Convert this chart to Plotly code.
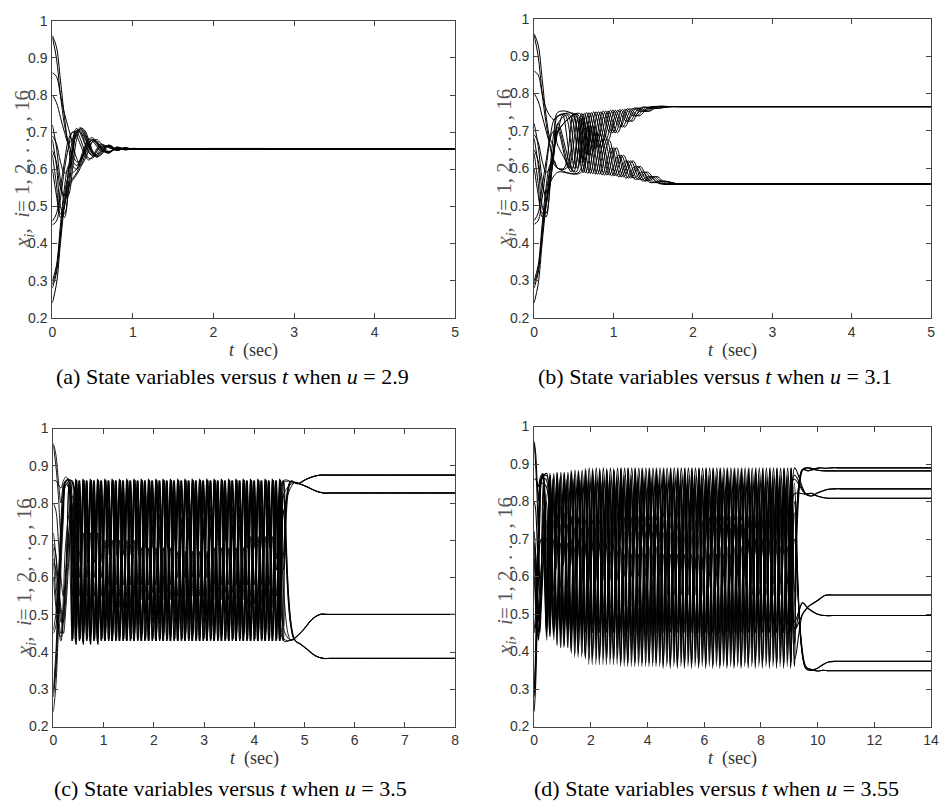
import plotly.graph_objects as go

# ---------------- shared initial conditions ----------------
INIT = [0.96, 0.955, 0.86, 0.80, 0.72, 0.69, 0.68, 0.65, 0.64, 0.60, 0.46, 0.45, 0.30, 0.29, 0.28, 0.24]

# ---------------- panel (a): u = 2.9 ----------------
TA = [0, 0.05, 0.1, 0.15, 0.2, 0.25, 0.3, 0.35, 0.4, 0.45, 0.5, 0.55, 0.6, 0.7, 0.8, 0.9, 1.0, 1.1, 5.0]
A_SERIES = [
    [0.96, 0.93, 0.84, 0.74, 0.66, 0.61, 0.60, 0.62, 0.655, 0.68, 0.685, 0.672, 0.655, 0.643, 0.66, 0.652, 0.656, 0.655, 0.655],
    [0.955, 0.90, 0.80, 0.72, 0.67, 0.64, 0.62, 0.625, 0.645, 0.67, 0.68, 0.675, 0.66, 0.645, 0.658, 0.653, 0.656, 0.655, 0.655],
    [0.86, 0.85, 0.80, 0.75, 0.71, 0.67, 0.63, 0.61, 0.625, 0.65, 0.675, 0.68, 0.67, 0.648, 0.655, 0.658, 0.654, 0.655, 0.655],
    [0.80, 0.78, 0.74, 0.70, 0.67, 0.68, 0.70, 0.70, 0.685, 0.66, 0.64, 0.635, 0.645, 0.665, 0.652, 0.656, 0.655, 0.655, 0.655],
    [0.72, 0.66, 0.57, 0.52, 0.53, 0.60, 0.68, 0.71, 0.705, 0.68, 0.65, 0.635, 0.638, 0.662, 0.654, 0.655, 0.655, 0.655, 0.655],
    [0.69, 0.67, 0.62, 0.59, 0.60, 0.65, 0.695, 0.705, 0.69, 0.665, 0.645, 0.64, 0.648, 0.664, 0.652, 0.657, 0.655, 0.655, 0.655],
    [0.68, 0.61, 0.50, 0.47, 0.54, 0.63, 0.70, 0.712, 0.70, 0.672, 0.645, 0.632, 0.64, 0.665, 0.653, 0.656, 0.655, 0.655, 0.655],
    [0.65, 0.62, 0.55, 0.53, 0.59, 0.66, 0.705, 0.70, 0.675, 0.65, 0.635, 0.64, 0.655, 0.663, 0.651, 0.657, 0.654, 0.655, 0.655],
    [0.64, 0.56, 0.48, 0.48, 0.56, 0.65, 0.70, 0.708, 0.695, 0.668, 0.642, 0.636, 0.645, 0.664, 0.653, 0.656, 0.655, 0.655, 0.655],
    [0.60, 0.53, 0.47, 0.50, 0.60, 0.68, 0.71, 0.695, 0.67, 0.645, 0.638, 0.648, 0.66, 0.66, 0.652, 0.657, 0.654, 0.655, 0.655],
    [0.46, 0.48, 0.55, 0.62, 0.68, 0.70, 0.69, 0.665, 0.64, 0.625, 0.635, 0.655, 0.668, 0.658, 0.652, 0.657, 0.654, 0.655, 0.655],
    [0.45, 0.46, 0.52, 0.60, 0.66, 0.70, 0.70, 0.68, 0.65, 0.63, 0.63, 0.648, 0.665, 0.66, 0.651, 0.657, 0.654, 0.655, 0.655],
    [0.30, 0.34, 0.45, 0.55, 0.61, 0.62, 0.61, 0.625, 0.65, 0.672, 0.678, 0.668, 0.655, 0.645, 0.659, 0.653, 0.656, 0.655, 0.655],
    [0.29, 0.33, 0.43, 0.53, 0.58, 0.59, 0.60, 0.63, 0.66, 0.68, 0.676, 0.662, 0.65, 0.647, 0.659, 0.653, 0.656, 0.655, 0.655],
    [0.28, 0.32, 0.42, 0.51, 0.56, 0.575, 0.59, 0.615, 0.645, 0.668, 0.68, 0.672, 0.658, 0.645, 0.658, 0.653, 0.656, 0.655, 0.655],
    [0.24, 0.29, 0.40, 0.50, 0.55, 0.57, 0.585, 0.605, 0.635, 0.66, 0.675, 0.675, 0.662, 0.646, 0.657, 0.654, 0.655, 0.655, 0.655],
]

# ---------------- panel (b): u = 3.1 ----------------
TB_EARLY = [0, 0.05, 0.1, 0.15, 0.2, 0.25, 0.3]
B_EARLY = [
    [0.96, 0.93, 0.84, 0.74, 0.68, 0.66, 0.70],
    [0.955, 0.90, 0.80, 0.72, 0.66, 0.61, 0.60],
    [0.86, 0.85, 0.80, 0.76, 0.74, 0.73, 0.74],
    [0.80, 0.78, 0.74, 0.70, 0.66, 0.62, 0.60],
    [0.72, 0.66, 0.57, 0.52, 0.56, 0.64, 0.72],
    [0.69, 0.67, 0.62, 0.59, 0.60, 0.65, 0.70],
    [0.68, 0.61, 0.50, 0.47, 0.55, 0.66, 0.74],
    [0.65, 0.62, 0.55, 0.53, 0.59, 0.66, 0.71],
    [0.64, 0.56, 0.48, 0.48, 0.56, 0.65, 0.72],
    [0.60, 0.53, 0.47, 0.50, 0.60, 0.70, 0.75],
    [0.46, 0.48, 0.55, 0.62, 0.68, 0.70, 0.66],
    [0.45, 0.46, 0.52, 0.60, 0.68, 0.73, 0.74],
    [0.30, 0.34, 0.45, 0.55, 0.61, 0.62, 0.60],
    [0.29, 0.33, 0.43, 0.53, 0.60, 0.65, 0.70],
    [0.28, 0.32, 0.42, 0.51, 0.56, 0.58, 0.59],
    [0.24, 0.29, 0.40, 0.50, 0.57, 0.64, 0.70],
]
B_GROUP = [0, 1, 0, 1, 0, 1, 0, 1, 1, 0, 1, 0, 1, 0, 1, 0]
B_PHASE = [0.0, 0.015, 0.03, 0.045, 0.06, 0.075, 0.09, 0.105, 0.135, 0.12, 0.165, 0.15, 0.195, 0.18, 0.225, 0.21]
B_START = 0.36
B_HALF = 0.12
B_ENV_T = [0.35, 0.45, 0.55, 0.65, 0.75, 0.85, 0.95, 1.05, 1.15, 1.25, 1.35, 1.45, 1.55, 1.65]
B_OUTER = [
    [0.742, 0.745, 0.747, 0.749, 0.751, 0.753, 0.755, 0.757, 0.759, 0.761, 0.763, 0.764, 0.765, 0.765],
    [0.60, 0.59, 0.588, 0.586, 0.584, 0.582, 0.58, 0.577, 0.574, 0.57, 0.566, 0.562, 0.559, 0.558],
]
B_INNER = [
    [0.62, 0.60, 0.615, 0.635, 0.655, 0.675, 0.695, 0.71, 0.725, 0.74, 0.752, 0.76, 0.765, 0.765],
    [0.75, 0.748, 0.735, 0.715, 0.695, 0.675, 0.655, 0.635, 0.62, 0.605, 0.59, 0.578, 0.566, 0.56],
]
B_STOP = [1.58, 1.68]
B_FINAL_T = [[1.72, 1.85, 5.0], [1.82, 1.95, 5.0]]
B_FINAL = [0.765, 0.558]

# ---------------- panels (c) and (d): shared start ----------------
TCD_EARLY = [0, 0.05, 0.1, 0.15, 0.2, 0.25]
CD_EARLY = [
    [0.96, 0.93, 0.86, 0.80, 0.85, 0.86],
    [0.955, 0.90, 0.82, 0.72, 0.78, 0.86],
    [0.86, 0.86, 0.85, 0.84, 0.86, 0.87],
    [0.80, 0.78, 0.70, 0.60, 0.55, 0.62],
    [0.72, 0.66, 0.56, 0.48, 0.52, 0.62],
    [0.69, 0.66, 0.58, 0.52, 0.48, 0.55],
    [0.68, 0.60, 0.50, 0.45, 0.50, 0.60],
    [0.65, 0.62, 0.58, 0.50, 0.45, 0.52],
    [0.64, 0.55, 0.47, 0.43, 0.48, 0.60],
    [0.60, 0.52, 0.46, 0.44, 0.55, 0.70],
    [0.46, 0.50, 0.60, 0.72, 0.82, 0.86],
    [0.45, 0.47, 0.56, 0.68, 0.80, 0.86],
    [0.30, 0.40, 0.58, 0.75, 0.84, 0.86],
    [0.29, 0.37, 0.55, 0.70, 0.82, 0.86],
    [0.28, 0.35, 0.50, 0.66, 0.80, 0.85],
    [0.24, 0.31, 0.46, 0.62, 0.76, 0.85],
]

# ---------------- panel (c): u = 3.5 ----------------
C_GROUP = [0, 1, 0, 1, 2, 3, 2, 3, 2, 3, 0, 1, 0, 1, 2, 3]
C_LVL_T = [0.3, 1.0, 1.7, 2.4, 3.1, 3.8, 4.4]
C_PEAK = [
    [0.865, 0.865, 0.865, 0.865, 0.865, 0.865, 0.865],
    [0.855, 0.855, 0.855, 0.855, 0.855, 0.855, 0.855],
    [0.86, 0.86, 0.86, 0.86, 0.86, 0.86, 0.86],
    [0.80, 0.79, 0.77, 0.76, 0.77, 0.79, 0.82],
    [0.86, 0.86, 0.86, 0.86, 0.86, 0.86, 0.86],
    [0.86, 0.86, 0.86, 0.86, 0.86, 0.86, 0.86],
    [0.72, 0.70, 0.68, 0.67, 0.68, 0.71, 0.74],
    [0.76, 0.78, 0.80, 0.80, 0.79, 0.78, 0.78],
    [0.85, 0.85, 0.85, 0.85, 0.85, 0.85, 0.85],
    [0.82, 0.83, 0.84, 0.84, 0.83, 0.82, 0.82],
    [0.86, 0.86, 0.86, 0.86, 0.86, 0.86, 0.86],
    [0.86, 0.86, 0.86, 0.86, 0.86, 0.86, 0.86],
    [0.862, 0.862, 0.862, 0.862, 0.862, 0.862, 0.862],
    [0.78, 0.76, 0.74, 0.73, 0.74, 0.76, 0.78],
    [0.84, 0.84, 0.84, 0.84, 0.84, 0.84, 0.84],
    [0.86, 0.86, 0.86, 0.86, 0.86, 0.86, 0.86],
]
C_TROUGH = [
    [0.43, 0.43, 0.43, 0.43, 0.43, 0.43, 0.43],
    [0.44, 0.45, 0.47, 0.49, 0.47, 0.45, 0.44],
    [0.60, 0.58, 0.56, 0.55, 0.56, 0.58, 0.62],
    [0.43, 0.43, 0.43, 0.43, 0.43, 0.43, 0.43],
    [0.435, 0.435, 0.435, 0.435, 0.435, 0.435, 0.435],
    [0.42, 0.43, 0.43, 0.43, 0.43, 0.43, 0.43],
    [0.43, 0.43, 0.43, 0.43, 0.43, 0.43, 0.43],
    [0.425, 0.43, 0.43, 0.43, 0.43, 0.43, 0.43],
    [0.55, 0.52, 0.50, 0.50, 0.51, 0.53, 0.55],
    [0.44, 0.44, 0.44, 0.44, 0.44, 0.44, 0.44],
    [0.47, 0.48, 0.50, 0.52, 0.50, 0.48, 0.47],
    [0.52, 0.55, 0.58, 0.60, 0.58, 0.55, 0.52],
    [0.64, 0.66, 0.68, 0.70, 0.70, 0.68, 0.65],
    [0.45, 0.45, 0.45, 0.45, 0.45, 0.45, 0.45],
    [0.46, 0.47, 0.48, 0.48, 0.47, 0.46, 0.46],
    [0.50, 0.52, 0.54, 0.55, 0.54, 0.52, 0.50],
]
C_PHASE = [0.0, 0.075, 0.008, 0.068, 0.015, 0.08, 0.004, 0.072, 0.012, 0.078, 0.002, 0.07, 0.018, 0.083, 0.01, 0.065]
C_START = 0.3
C_HALF = 0.0725
C_STOP = 4.62
C_END_T = [4.72, 4.86, 5.0, 5.14, 5.3, 5.45, 8.0]
C_END = [
    [0.858, 0.852, 0.862, 0.87, 0.875, 0.875, 0.875],
    [0.855, 0.85, 0.842, 0.833, 0.827, 0.827, 0.827],
    [0.432, 0.445, 0.465, 0.488, 0.501, 0.501, 0.501],
    [0.435, 0.42, 0.405, 0.39, 0.383, 0.383, 0.383],
]

# ---------------- panel (d): u = 3.55 ----------------
D_GROUP = [0, 2, 1, 3, 4, 6, 5, 7, 5, 7, 0, 2, 1, 3, 4, 6]
D_LVL_T = [0.3, 0.8, 1.3, 1.8, 3.0, 4.5, 6.0, 7.5, 9.0]
D_PEAK = [
    [0.875, 0.878, 0.884, 0.89, 0.89, 0.89, 0.89, 0.89, 0.89],
    [0.87, 0.87, 0.87, 0.87, 0.87, 0.87, 0.87, 0.87, 0.87],
    [0.875, 0.878, 0.882, 0.886, 0.888, 0.888, 0.888, 0.888, 0.888],
    [0.82, 0.82, 0.83, 0.83, 0.84, 0.84, 0.83, 0.82, 0.82],
    [0.78, 0.77, 0.76, 0.75, 0.74, 0.72, 0.74, 0.76, 0.78],
    [0.80, 0.79, 0.78, 0.77, 0.76, 0.75, 0.76, 0.78, 0.80],
    [0.72, 0.71, 0.70, 0.69, 0.68, 0.66, 0.68, 0.70, 0.72],
    [0.75, 0.74, 0.73, 0.73, 0.72, 0.72, 0.73, 0.75, 0.77],
    [0.85, 0.845, 0.84, 0.835, 0.83, 0.82, 0.82, 0.83, 0.84],
    [0.70, 0.69, 0.68, 0.67, 0.66, 0.65, 0.66, 0.68, 0.70],
    [0.87, 0.875, 0.88, 0.885, 0.89, 0.89, 0.89, 0.89, 0.89],
    [0.86, 0.86, 0.86, 0.86, 0.85, 0.85, 0.85, 0.85, 0.86],
    [0.87, 0.875, 0.878, 0.88, 0.885, 0.885, 0.885, 0.885, 0.885],
    [0.875, 0.878, 0.884, 0.89, 0.89, 0.89, 0.89, 0.89, 0.89],
    [0.87, 0.873, 0.876, 0.88, 0.88, 0.88, 0.88, 0.88, 0.88],
    [0.84, 0.845, 0.85, 0.855, 0.86, 0.86, 0.86, 0.86, 0.85],
]
D_TROUGH = [
    [0.44, 0.41, 0.385, 0.365, 0.36, 0.36, 0.36, 0.36, 0.36],
    [0.48, 0.48, 0.47, 0.47, 0.47, 0.47, 0.48, 0.48, 0.48],
    [0.45, 0.43, 0.42, 0.41, 0.40, 0.40, 0.40, 0.41, 0.42],
    [0.45, 0.45, 0.45, 0.45, 0.46, 0.46, 0.45, 0.45, 0.45],
    [0.45, 0.46, 0.46, 0.47, 0.47, 0.48, 0.48, 0.47, 0.46],
    [0.44, 0.415, 0.395, 0.38, 0.37, 0.365, 0.365, 0.37, 0.37],
    [0.45, 0.45, 0.44, 0.44, 0.44, 0.44, 0.44, 0.44, 0.45],
    [0.44, 0.41, 0.385, 0.365, 0.36, 0.355, 0.355, 0.355, 0.355],
    [0.47, 0.47, 0.46, 0.46, 0.46, 0.46, 0.46, 0.47, 0.48],
    [0.46, 0.46, 0.45, 0.45, 0.45, 0.45, 0.45, 0.45, 0.45],
    [0.50, 0.50, 0.50, 0.51, 0.52, 0.55, 0.57, 0.55, 0.52],
    [0.62, 0.63, 0.65, 0.67, 0.70, 0.72, 0.70, 0.66, 0.62],
    [0.56, 0.57, 0.58, 0.59, 0.60, 0.62, 0.60, 0.58, 0.56],
    [0.72, 0.73, 0.74, 0.74, 0.75, 0.76, 0.75, 0.73, 0.72],
    [0.43, 0.41, 0.395, 0.38, 0.37, 0.37, 0.37, 0.37, 0.38],
    [0.45, 0.42, 0.40, 0.385, 0.37, 0.36, 0.36, 0.36, 0.36],
]
D_PHASE = [0.0, 0.128, 0.01, 0.118, 0.02, 0.135, 0.005, 0.122, 0.015, 0.13, 0.025, 0.112, 0.008, 0.14, 0.018, 0.125]
D_START = 0.3
D_HALF = 0.125
D_STOP = 9.25
D_END_T = [9.45, 9.65, 9.85, 10.05, 10.25, 10.5, 10.7, 14.0]
D_END = [
    [0.885, 0.89, 0.887, 0.89, 0.889, 0.89, 0.89, 0.89],
    [0.885, 0.882, 0.886, 0.883, 0.882, 0.882, 0.882, 0.882],
    [0.82, 0.815, 0.822, 0.828, 0.833, 0.834, 0.834, 0.834],
    [0.82, 0.822, 0.815, 0.811, 0.809, 0.809, 0.809, 0.809],
    [0.50, 0.52, 0.53, 0.54, 0.55, 0.551, 0.551, 0.551],
    [0.53, 0.515, 0.505, 0.498, 0.496, 0.496, 0.496, 0.496],
    [0.355, 0.35, 0.355, 0.365, 0.372, 0.374, 0.374, 0.374],
    [0.36, 0.352, 0.348, 0.35, 0.349, 0.349, 0.349, 0.349],
]

# ---------------- figure text ----------------
X_TITLE = "<i>t</i>  (sec)"
Y_TITLE = "<i>x<sub>i</sub></i>,  <i>i</i>= 1, 2, . . . , 16"
CAPTIONS = [
    "(a) State variables versus <i>t</i> when <i>u</i> = 2.9",
    "(b) State variables versus <i>t</i> when <i>u</i> = 3.1",
    "(c) State variables versus <i>t</i> when <i>u</i> = 3.5",
    "(d) State variables versus <i>t</i> when <i>u</i> = 3.55",
]
X_RANGES = [[0, 5], [0, 5], [0, 8], [0, 14]]
X_DTICK = [1, 1, 1, 2]
Y_TICKS = [0.2, 0.3, 0.4, 0.5, 0.6, 0.7, 0.8, 0.9, 1.0]
Y_TICKTEXT = ["0.2", "0.3", "0.4", "0.5", "0.6", "0.7", "0.8", "0.9", "1"]


def step_lookup(ts, vals, t):
    v = vals[0]
    for tt, vv in zip(ts, vals):
        if t >= tt:
            v = vv
    return v


def osc_knots(start, phase, half, stop, lvl_t, first, second):
    xs, ys = [], []
    k = 0
    while True:
        t = start + phase + k * half
        if t > stop:
            break
        src = first if k % 2 == 0 else second
        xs.append(t)
        ys.append(step_lookup(lvl_t, src, t))
        k += 1
    return xs, ys


fig = go.Figure()
LINE_A = dict(color="black", width=1, shape="spline", smoothing=1.0)
LINE_C = dict(color="black", width=0.9, shape="spline", smoothing=1.0)
LINE_D = dict(color="black", width=1.1, shape="spline", smoothing=1.0)

# (a)
for s in A_SERIES:
    fig.add_trace(go.Scatter(x=TA, y=s, mode="lines", line=LINE_A, xaxis="x", yaxis="y",
                             showlegend=False, hoverinfo="skip"))

# (b)
for i in range(16):
    g = B_GROUP[i]
    ox, oy = osc_knots(B_START, B_PHASE[i], B_HALF, B_STOP[g], B_ENV_T, B_OUTER[g], B_INNER[g])
    xs = TB_EARLY + ox + B_FINAL_T[g]
    ys = B_EARLY[i] + oy + [B_FINAL[g]] * len(B_FINAL_T[g])
    fig.add_trace(go.Scatter(x=xs, y=ys, mode="lines", line=LINE_A, xaxis="x2", yaxis="y2",
                             showlegend=False, hoverinfo="skip"))

# (c)
for i in range(16):
    g = C_GROUP[i]
    ox, oy = osc_knots(C_START, C_PHASE[i], C_HALF, C_STOP, C_LVL_T, C_PEAK[i], C_TROUGH[i])
    ex = [t + C_PHASE[i] for t in C_END_T[:-1]] + [C_END_T[-1]]
    xs = TCD_EARLY + ox + ex
    ys = CD_EARLY[i] + oy + C_END[g]
    fig.add_trace(go.Scatter(x=xs, y=ys, mode="lines", line=LINE_C, xaxis="x3", yaxis="y3",
                             showlegend=False, hoverinfo="skip"))

# (d)
for i in range(16):
    g = D_GROUP[i]
    ox, oy = osc_knots(D_START, D_PHASE[i], D_HALF, D_STOP, D_LVL_T, D_PEAK[i], D_TROUGH[i])
    ex = [t + D_PHASE[i] for t in D_END_T[:-1]] + [D_END_T[-1]]
    xs = TCD_EARLY + ox + ex
    ys = CD_EARLY[i] + oy + D_END[g]
    fig.add_trace(go.Scatter(x=xs, y=ys, mode="lines", line=LINE_D, xaxis="x4", yaxis="y4",
                             showlegend=False, hoverinfo="skip"))

W, H = 947, 812
# plot boxes in pixels: (left, right, top, bottom)
BOXES = [(49, 457, 13, 316), (537, 939, 11, 316), (50, 457, 429, 733), (537, 939, 427, 733)]

axis_common = dict(showgrid=False, zeroline=False, showline=True, mirror="ticks",
                   linecolor="#444", linewidth=1, ticks="inside", ticklen=5, tickcolor="#444",
                   tickfont=dict(family="Liberation Sans, Arial, sans-serif", size=14, color="#333"))

layout = dict(width=W, height=H, margin=dict(l=0, r=0, t=0, b=0),
              paper_bgcolor="white", plot_bgcolor="white", showlegend=False)
annotations = []
for n, (l, r, t, b) in enumerate(BOXES):
    sfx = "" if n == 0 else str(n + 1)
    xd = [l / W, r / W]
    yd = [1 - b / H, 1 - t / H]
    layout["xaxis" + sfx] = dict(axis_common, domain=xd, range=X_RANGES[n], dtick=X_DTICK[n],
                                 tick0=0, anchor="y" + sfx, ticklabelstandoff=1,
                                 ticklabeloverflow="allow")
    layout["yaxis" + sfx] = dict(axis_common, domain=yd, range=[0.2, 1.0], tickvals=Y_TICKS,
                                 ticktext=Y_TICKTEXT, anchor="x" + sfx, ticklabelstandoff=1)
    annotations.append(dict(text=X_TITLE, x=(l + r) / 2 / W, y=1 - (b + 33) / H,
                            xref="paper", yref="paper", showarrow=False, xanchor="center", yanchor="middle",
                            font=dict(family="Liberation Serif, serif", size=18, color="#333")))
    annotations.append(dict(text=Y_TITLE, x=(l - 29) / W, y=1 - (t + b) / 2 / H, textangle=-90,
                            xref="paper", yref="paper", showarrow=False, xanchor="center", yanchor="middle",
                            font=dict(family="Liberation Serif, serif", size=21, color="#555")))

CAP_POS = [(231, 376), (720, 376), (229, 796), (722, 796)]
for cap, (cx, cy) in zip(CAPTIONS, CAP_POS):
    annotations.append(dict(text=cap, x=cx / W, y=1 - cy / H, xref="paper", yref="paper",
                            showarrow=False, xanchor="center", yanchor="middle",
                            font=dict(family="Liberation Serif, serif", size=22, color="black")))

layout["annotations"] = annotations
fig.update_layout(**layout)
fig.write_html("out.html", post_script="document.body.style.margin='0';",
               config={"displayModeBar": False})
